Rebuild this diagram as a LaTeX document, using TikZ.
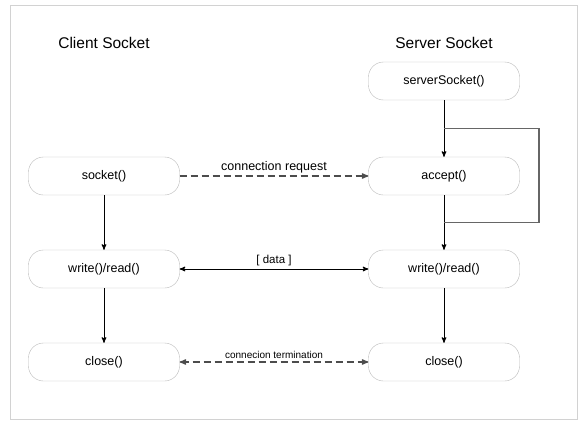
\documentclass[tikz,border=0pt]{standalone}
\usepackage{fontspec}
\setmainfont{Liberation Sans}
\usetikzlibrary{positioning, arrows, calc}

\begin{document}
\begin{tikzpicture}[x=1pt,y=-1pt,>=stealth',thick,
    fn node/.style={draw=gray!55,thin,rounded corners=15pt,minimum width=151pt,minimum height=38pt,font=\fontsize{12.5}{14}\selectfont},
    title node/.style={font=\fontsize{15.5}{18}\selectfont},
    link/.style={black,line width=1pt},
    dash link/.style={draw=black!70,line width=1.3pt,dash pattern=on 7pt off 4pt}]

\useasboundingbox (0,0) rectangle (583,423);
\draw[gray!35,thin] (10,5) rectangle (577,419);

\node[title node]  (client)  at (104,43)  {Client Socket};
\node[title node]  (server)  at (444,43)  {Server Socket};

\node[fn node]  (srvsock)  at (444,81)  {serverSocket()};
\node[fn node]  (socket)   at (104,176) {socket()};
\node[fn node]  (accept)   [right of = socket, node distance=340pt] {accept()};
\node[fn node]  (cwr)      [below of = socket, node distance=93pt]  {write()/read()};
\node[fn node]  (swr)      [below of = accept, node distance=93pt]  {write()/read()};
\node[fn node]  (cclose)   [below of = cwr, node distance=93pt]     {close()};
\node[fn node]  (sclose)   [below of = swr, node distance=93pt]     {close()};

\coordinate (looptop) at ($(srvsock.south)!0.5!(accept.north)$);
\coordinate (loopbot) at ($(accept.south)!0.5!(swr.north)$);

\draw[link,->] (srvsock) -- (accept);
\draw[link,->] (accept) -- (swr);
\draw[link,->] (socket) -- (cwr);
\draw[link,->] (cwr) -- (cclose);
\draw[link,->] (swr) -- (sclose);
\draw[gray!80!black,line width=1.5pt] (looptop) -- ++(95,0) |- (loopbot);

\path
(socket) edge[dash link,->] node[above=-1pt,black,font=\fontsize{12.5}{14}\selectfont]{connection request} (accept)
(cwr) edge[link,<->] node[above=-1pt,font=\fontsize{11.5}{13}\selectfont]{[ data ]} (swr)
(cclose) edge[dash link,<->] node[above=-1pt,black,font=\fontsize{10}{12}\selectfont]{connecion termination} (sclose);
\end{tikzpicture}
\end{document}
